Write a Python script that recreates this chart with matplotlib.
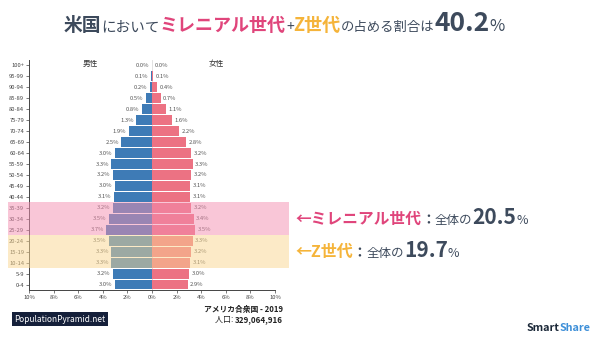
import matplotlib
matplotlib.use('Agg')
import matplotlib.pyplot as plt
import matplotlib.transforms as mtransforms
from matplotlib.patches import Rectangle

plt.rcParams['font.family'] = ['Noto Sans CJK JP', 'DejaVu Sans']

ages = ['0-4', '5-9', '10-14', '15-19', '20-24', '25-29', '30-34', '35-39',
        '40-44', '45-49', '50-54', '55-59', '60-64', '65-69', '70-74',
        '75-79', '80-84', '85-89', '90-94', '95-99', '100+']
male = [3.0, 3.2, 3.3, 3.3, 3.5, 3.7, 3.5, 3.2, 3.1, 3.0, 3.2, 3.3, 3.0,
        2.5, 1.9, 1.3, 0.8, 0.5, 0.2, 0.1, 0.0]
female = [2.9, 3.0, 3.1, 3.2, 3.3, 3.5, 3.4, 3.2, 3.1, 3.1, 3.2, 3.3, 3.2,
          2.8, 2.2, 1.6, 1.1, 0.7, 0.4, 0.1, 0.0]
xticks = [-10, -8, -6, -4, -2, 0, 2, 4, 6, 8, 10]

W, H = 600, 341
NAVY = '#3d4a5c'
PINK = '#e0457b'
YELLOW = '#f5b43a'

fig = plt.figure(figsize=(6, 3.41), dpi=100)
ax = fig.add_axes([29 / W, 51 / H, 246 / W, 230 / H])

y = list(range(len(ages)))
ax.barh(y, [-m for m in male], height=0.9, color='#3e7bb6', zorder=2)
ax.barh(y, female, height=0.9, color='#ec7283', zorder=2)
ax.axvline(0, color='#dddddd', lw=0.6, zorder=1)

for i in y:
    ax.text(-male[i] - 0.2, i, f'{male[i]:.1f}%', ha='right', va='center',
            fontsize=4.2, color='#555555', zorder=3)
    ax.text(female[i] + 0.2, i, f'{female[i]:.1f}%', ha='left', va='center',
            fontsize=4.2, color='#555555', zorder=3)

ax.set_xlim(-10, 10)
ax.set_ylim(-0.5, len(ages) - 0.5)
ax.set_yticks(y)
ax.set_yticklabels(ages)
ax.set_xticks(xticks)
ax.set_xticklabels([f'{abs(v)}%' for v in xticks])
ax.tick_params(labelsize=4.2, labelcolor='#444444', length=2, width=0.5,
               color='#444444', pad=1.5)
for side in ['top', 'right']:
    ax.spines[side].set_visible(False)
for side in ['left', 'bottom']:
    ax.spines[side].set_color('#444444')
    ax.spines[side].set_linewidth(0.7)

# generation bands drawn over bars and labels
tr = mtransforms.blended_transform_factory(fig.transFigure, ax.transData)
ax.add_patch(Rectangle((8 / W, 4.5), 281 / W, 3, transform=tr,
                       facecolor='#f48fb1', alpha=0.5, lw=0, zorder=10,
                       clip_on=False))
ax.add_patch(Rectangle((8 / W, 1.5), 281 / W, 3, transform=tr,
                       facecolor='#fbd791', alpha=0.5, lw=0, zorder=10,
                       clip_on=False))

fig.text(90 / W, 1 - 64 / H, '男性', ha='center', va='center', fontsize=5.5,
         color='#333333')
fig.text(216 / W, 1 - 64 / H, '女性', ha='center', va='center', fontsize=5.5,
         color='#333333')

renderer = fig.canvas.get_renderer()


def chain(pieces, x, y, ha='left'):
    # place pieces one after another on a common baseline
    if ha == 'right':
        pieces = pieces[::-1]
    cur = x
    for s, size, color, weight in pieces:
        t = fig.text(cur / W, 1 - y / H, s, fontsize=size, color=color,
                     fontweight=weight, va='baseline', ha=ha)
        bb = t.get_window_extent(renderer)
        cur = bb.x0 if ha == 'right' else bb.x1


chain([('米国', 13.5, NAVY, 'bold'),
       ('において', 10.5, NAVY, 'normal'),
       ('ミレニアル世代', 13, PINK, 'bold'),
       ('+', 10, NAVY, 'normal'),
       ('Z世代', 13, YELLOW, 'bold'),
       ('の占める割合は', 9.6, NAVY, 'normal'),
       ('40.2', 19, NAVY, 'bold'),
       ('%', 12, NAVY, 'normal')], 64, 31)

chain([('←ミレニアル世代', 11.3, PINK, 'bold'),
       ('：', 10, NAVY, 'bold'),
       ('全体の', 9, NAVY, 'normal'),
       ('20.5', 15, NAVY, 'bold'),
       ('%', 9, NAVY, 'normal')], 295, 224)

chain([('←Z世代', 11.5, YELLOW, 'bold'),
       ('：', 10, NAVY, 'bold'),
       ('全体の', 9, NAVY, 'normal'),
       ('19.7', 15, NAVY, 'bold'),
       ('%', 9, NAVY, 'normal')], 295, 257)

fig.text(283 / W, 1 - 312 / H, 'アメリカ合衆国 - 2019', ha='right',
         va='baseline', fontsize=5.6, color='#222222', fontweight='bold')
chain([('人口: ', 5.8, '#222222', 'normal'),
       ('329,064,916', 5.8, '#222222', 'bold')], 283, 322, ha='right')

fig.text(14 / W, 1 - 319 / H, 'PopulationPyramid.net', ha='left',
         va='center', fontsize=6, color='white',
         bbox=dict(boxstyle='square,pad=0.3', fc='#15203a', ec='none'))

chain([('Smart', 7.8, '#1b2838', 'bold'),
       ('Share', 7.8, '#3d8fd8', 'bold')], 527, 331)

fig.savefig('out.png', dpi=100)
